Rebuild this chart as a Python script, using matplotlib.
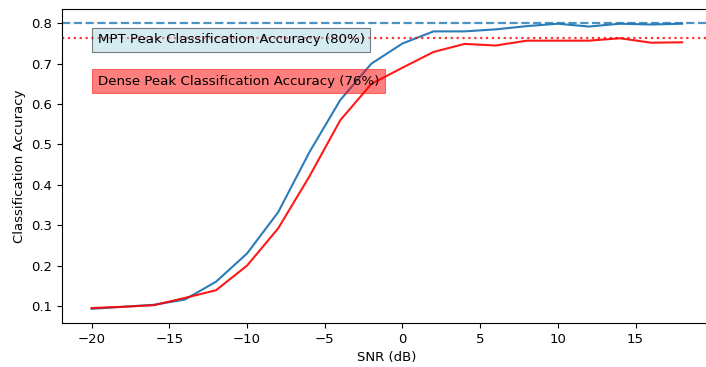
import numpy as np
import matplotlib
matplotlib.use('Agg')
import matplotlib.pyplot as plt

snr = list(range(-20, 20, 2))
mpt_acc = [0.093, 0.098, 0.103, 0.116, 0.160, 0.230, 0.332, 0.480, 0.610, 0.700,
           0.750, 0.780, 0.780, 0.785, 0.793, 0.799, 0.792, 0.799, 0.797, 0.799]
dense_acc = [0.095, 0.098, 0.102, 0.120, 0.139, 0.200, 0.292, 0.420, 0.560, 0.650,
             0.690, 0.729, 0.749, 0.745, 0.757, 0.757, 0.757, 0.763, 0.752, 0.753]
mpt_peak = 0.80
dense_peak = 0.763

fig = plt.figure(figsize=(7.06, 3.67), dpi=100)
ax = fig.add_axes([0.088, 0.12, 0.92, 0.855])

ax.plot(snr, mpt_acc, color='#2a7db8', lw=1.5)
ax.plot(snr, dense_acc, color='red', lw=1.5, alpha=0.9)
ax.axhline(mpt_peak, color='#1f77b4', linestyle='--', lw=1.6, alpha=0.8)
ax.axhline(dense_peak, color='red', linestyle=':', lw=1.6, alpha=0.8)

# Beschriftungen der Peaks
ax.text(-19.6, 0.759, 'MPT Peak Classification Accuracy (80%)', va='center', fontsize=9.6,
        bbox=dict(facecolor='lightblue', alpha=0.5, edgecolor='black', linewidth=0.8))
ax.text(-19.6, 0.657, 'Dense Peak Classification Accuracy (76%)', va='center', fontsize=9.6,
        bbox=dict(facecolor='red', alpha=0.5, edgecolor='red', linewidth=0.8))

ax.set_xlabel('SNR (dB)', fontsize=9.5)
ax.set_ylabel('Classification Accuracy', fontsize=9.5)
ax.tick_params(labelsize=9.5)
ax.set_xlim(-21.9, 19.9)
ax.set_ylim(0.058, 0.835)
ax.spines['right'].set_visible(False)

fig.savefig('out.png', dpi=100)
